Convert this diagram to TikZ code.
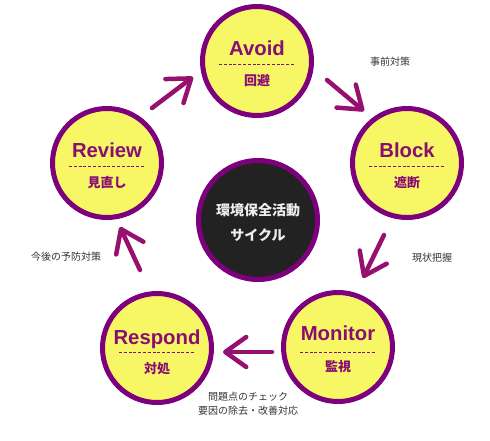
\documentclass[tikz,border=0pt]{standalone}
\usepackage{fontspec}
\setmainfont{Liberation Sans}
\newfontfamily\jpfont{Noto Sans CJK JP}
\usepackage{xcolor}
\usetikzlibrary{arrows.meta}
\usetikzlibrary{positioning}

\definecolor{rim}{HTML}{7D007D}
\definecolor{lemon}{HTML}{F7F765}
\definecolor{plum}{HTML}{97106F}
\definecolor{ink}{HTML}{8A0E72}
\definecolor{coal}{HTML}{222222}
\definecolor{chalk}{HTML}{EEEEEE}

\begin{document}
\begin{tikzpicture}
[every node/.style={inner sep=0pt},
 phase/.style={circle, minimum size=109pt, fill=lemon, line width=5pt, draw=rim},
 hub/.style={circle, minimum size=119pt, fill=coal, line width=5pt, draw=rim},
 enword/.style={font=\fontsize{20.3}{24}\selectfont\bfseries, text=ink, text height=14.6pt, text depth=0pt},
 jpword/.style={font=\jpfont\fontsize{13}{15}\selectfont\bfseries, text=ink, text height=11pt, text depth=1pt},
 hubtext/.style={font=\jpfont\fontsize{14}{25}\selectfont\bfseries, text=chalk, align=center},
 note/.style={font=\jpfont\fontsize{10}{14}\selectfont, text=black!80, align=center},
 divider/.style={line width=0.9pt, dash pattern=on 3pt off 1.8pt, color=ink},
 turn/.style={line width=4.5pt, line cap=round, color=plum, -{Straight Barb[length=21pt, width=30pt, round]}}]
\useasboundingbox (0pt, 0pt) rectangle (490pt, -440pt);
\node (avoid) [phase] at (257pt, -61pt) {};
\node (block) [phase] at (407pt, -163pt) {};
\node (monitor) [phase] at (338pt, -347pt) {};
\node (respond) [phase] at (157pt, -348pt) {};
\node (review) [phase] at (107pt, -163pt) {};
\node (hub) [hub] at (258pt, -220pt) {};
\node (hub-text) [hubtext] at (258pt, -223pt) {環境保全活動\\サイクル};
\node (avoid-en) [enword] at (257pt, -48pt) {Avoid};
\node (avoid-jp) [jpword] at (257pt, -80pt) {回避};
\node (block-en) [enword] at (407pt, -150pt) {Block};
\node (block-jp) [jpword] at (407pt, -182pt) {遮断};
\node (monitor-en) [enword] at (338pt, -333pt) {Monitor};
\node (monitor-jp) [jpword] at (338pt, -366pt) {監視};
\node (respond-en) [enword] at (157pt, -337pt) {Respond};
\node (respond-jp) [jpword] at (157pt, -368pt) {対処};
\node (review-en) [enword] at (107pt, -150pt) {Review};
\node (review-jp) [jpword] at (107pt, -182pt) {見直し};
\draw [divider] ([shift={(-38pt,-3pt)}]avoid.center) -- ([shift={(38pt,-3pt)}]avoid.center);
\draw [divider] ([shift={(-38pt,-3pt)}]block.center) -- ([shift={(38pt,-3pt)}]block.center);
\draw [divider] ([shift={(-38pt,-5pt)}]monitor.center) -- ([shift={(38pt,-5pt)}]monitor.center);
\draw [divider] ([shift={(-38pt,-4pt)}]respond.center) -- ([shift={(38pt,-4pt)}]respond.center);
\draw [divider] ([shift={(-38pt,-3pt)}]review.center) -- ([shift={(38pt,-3pt)}]review.center);
\coordinate (review-out) at (152pt, -108pt);
\coordinate (avoid-in) at (193pt, -77pt);
\coordinate (avoid-out) at (327pt, -80pt);
\coordinate (block-in) at (364pt, -111pt);
\coordinate (block-out) at (384pt, -235pt);
\coordinate (monitor-in) at (363pt, -278pt);
\coordinate (monitor-out) at (272pt, -352pt);
\coordinate (respond-in) at (223pt, -352pt);
\coordinate (respond-out) at (140pt, -270pt);
\coordinate (review-in) at (120pt, -227pt);
\draw [turn] (review-out) -- (avoid-in);
\draw [turn] (avoid-out) -- (block-in);
\draw [turn] (block-out) -- (monitor-in);
\draw [turn] (monitor-out) -- (respond-in);
\draw [turn] (respond-out) -- (review-in);
\node (pre) [note] at (390pt, -62pt) {事前対策};
\node (grasp) [note] at (432pt, -258pt) {現状把握};
\node (prevent) [note] at (66pt, -257pt) {今後の予防対策};
\node (fix) [note] at (248pt, -404pt) {問題点のチェック\\要因の除去・改善対応};
\end{tikzpicture}
\end{document}
